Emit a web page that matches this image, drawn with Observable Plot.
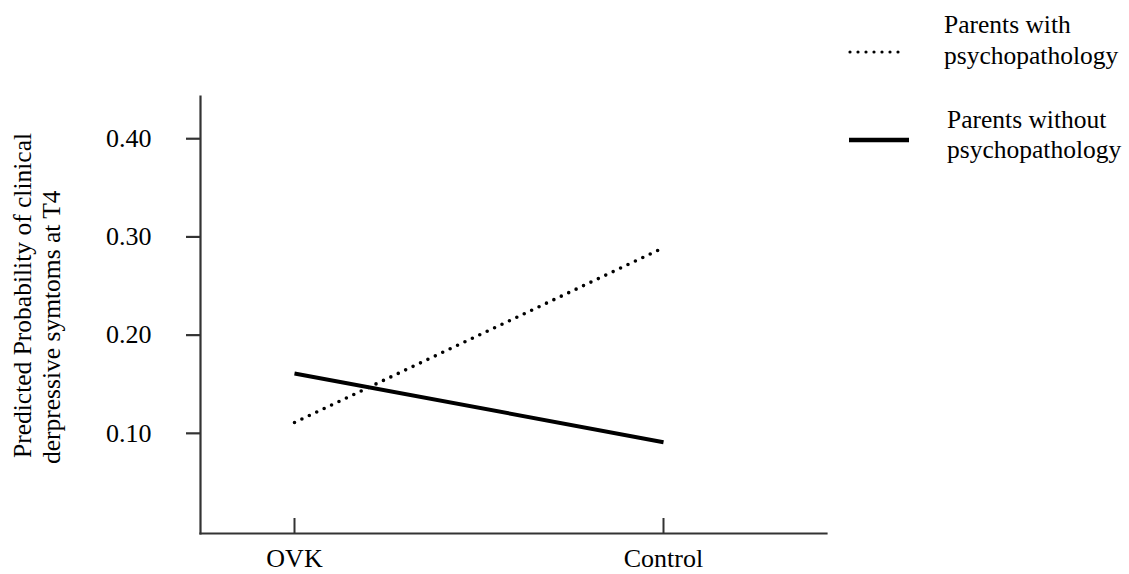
<!DOCTYPE html>
<html>
<head>
<meta charset="utf-8">
<script src="https://cdn.jsdelivr.net/npm/d3@7"></script>
<script src="https://cdn.jsdelivr.net/npm/@observablehq/plot@0.6"></script>
<style>
  html, body { margin: 0; padding: 0; background: #fff; }
  #chart { position: relative; width: 1129px; height: 574px; }
</style>
</head>
<body>
<div id="chart"></div>
<script>
const categories = ["OVK", "Control"];
const seriesNames = ["Parents with psychopathology", "Parents without psychopathology"];
const withPsych = [0.111, 0.289];
const withoutPsych = [0.161, 0.091];
const yTicks = [0.10, 0.20, 0.30, 0.40];
const yLabelLines = ["Predicted Probability of clinical", "derpressive symtoms at T4"];
const legendLines = [["Parents with", "psychopathology"], ["Parents without", "psychopathology"]];

const data = [];
categories.forEach((c, i) => {
  data.push({series: seriesNames[0], cat: c, value: withPsych[i]});
  data.push({series: seriesNames[1], cat: c, value: withoutPsych[i]});
});

const W = 1129, H = 574;
const mL = 200, mR = 303, mT = 96, mB = 41;
const FONT = "'Liberation Serif', 'Times New Roman', serif";

const plot = Plot.plot({
  width: W,
  height: H,
  marginLeft: mL,
  marginRight: mR,
  marginTop: mT,
  marginBottom: mB,
  style: `font-family: ${FONT}; font-size: 26px; color: #000; background: #fff;`,
  x: {type: "point", domain: categories, range: [294, 663], padding: 0},
  y: {domain: [-0.002, 0.443]},
  marks: [
    Plot.frame({anchor: "left", stroke: "#333", strokeWidth: 2.2}),
    Plot.frame({anchor: "bottom", stroke: "#333", strokeWidth: 2.2}),
    Plot.axisY({ticks: yTicks, tickFormat: d3.format(".2f"), tickSize: 14, tickPadding: 35, stroke: "#333", strokeWidth: 2.2, label: null, fill: "#000"}),
    Plot.axisX({tickSize: -15, tickPadding: 30, stroke: "#333", strokeWidth: 2, label: null, fill: "#000"}),
    Plot.line(data.filter(d => d.series === seriesNames[0]), {x: "cat", y: "value", stroke: "#000", strokeWidth: 3.6, strokeDasharray: "0 8.2", strokeLinecap: "round"}),
    Plot.line(data.filter(d => d.series === seriesNames[1]), {x: "cat", y: "value", stroke: "#000", strokeWidth: 4, strokeLinecap: "butt"})
  ]
});

document.getElementById("chart").appendChild(plot);

const svg = d3.select(plot);
// y-axis title (two lines, rotated, start-aligned at bottom)
const yt = svg.append("text")
  .attr("transform", "translate(0,458) rotate(-90)")
  .attr("text-anchor", "start")
  .attr("font-family", FONT)
  .attr("font-size", 25.5)
  .attr("fill", "#000");
yt.append("tspan").attr("x", 0).attr("y", 31).text(yLabelLines[0]);
yt.append("tspan").attr("x", -6).attr("y", 60).text(yLabelLines[1]);

// legend
const legendItems = [
  {lines: legendLines[0], dash: "0 8", width: 3.2, cap: "round", x1: 850, x2: 899, ly: 52, tx: 944, ty: 33, gap: 31},
  {lines: legendLines[1], dash: null, width: 4.5, cap: "butt", x1: 849, x2: 909, ly: 140, tx: 947, ty: 128, gap: 30}
];
legendItems.forEach(it => {
  const ln = svg.append("line")
    .attr("x1", it.x1).attr("x2", it.x2).attr("y1", it.ly).attr("y2", it.ly)
    .attr("stroke", "#000").attr("stroke-width", it.width).attr("stroke-linecap", it.cap);
  if (it.dash) ln.attr("stroke-dasharray", it.dash);
  const t = svg.append("text")
    .attr("text-anchor", "start")
    .attr("font-family", FONT)
    .attr("font-size", 25.5)
    .attr("fill", "#000");
  it.lines.forEach((s, i) => {
    t.append("tspan").attr("x", it.tx).attr("y", it.ty + i * it.gap).text(s);
  });
});
</script>
</body>
</html>
